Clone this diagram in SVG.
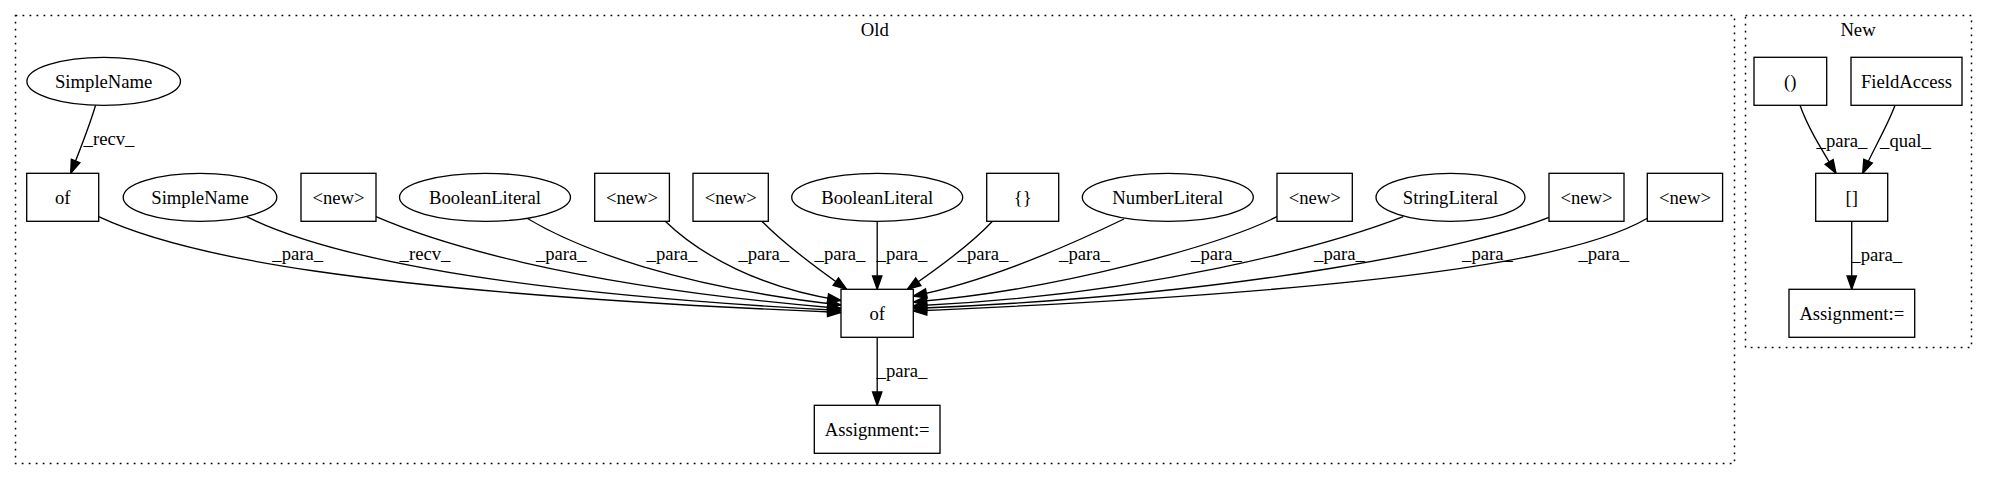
<svg xmlns="http://www.w3.org/2000/svg" width="1989" height="480" viewBox="0 0 1989 480" font-family="'Liberation Serif', 'Times New Roman', serif">
<style>
  .cl { fill: none; stroke: #000; stroke-width: 1.5; stroke-dasharray: 1.8 5.2; }
  .nd { fill: #fff; stroke: #000; stroke-width: 1.33; }
  text { font-family: 'Liberation Serif', 'Times New Roman', serif; }
  .t { font-size: 18.67px; fill: #000; text-anchor: middle; }
  .e { fill: none; stroke: #000; stroke-width: 1.33; marker-end: url(#arr); }
</style>
<defs>
  <marker id="arr" markerUnits="userSpaceOnUse" viewBox="-1 -6 16 12" markerWidth="16" markerHeight="12" refX="13.33" refY="0" orient="auto" overflow="visible">
    <path d="M0,-4.67 L13.33,0 L0,4.67 Z" fill="#000" stroke="#000" stroke-width="1.33"/>
  </marker>
</defs>
<rect width="1989" height="480" fill="#fff"/>

<g id="cluster_old">
  <rect class="cl" x="15.5" y="15.5" width="1719" height="448"/>
  <text class="t" x="874.8" y="36">Old</text>
</g>
<g id="cluster_new">
  <rect class="cl" x="1745.5" y="15.5" width="226" height="332"/>
  <text class="t" x="1858" y="36">New</text>
</g>

<g id="connectors">
  <path class="e" d="M95.5,105.5 C90,124 80,150 70.7,173.3"/>
  <text class="t" x="109" y="145">_recv_</text>

  <path class="e" d="M98.7,216.7 C180,255 350,292 841,312.5"/>
  <text class="t" x="297.7" y="260">_para_</text>

  <path class="e" d="M246.7,216.7 C310,248 450,290 841,310.5"/>
  <text class="t" x="425" y="260">_recv_</text>

  <path class="e" d="M376,216.7 C430,240 560,285 841,308.5"/>
  <text class="t" x="561.3" y="260">_para_</text>

  <path class="e" d="M527,218.3 C580,250 680,287 841,305"/>
  <text class="t" x="672" y="260">_para_</text>

  <path class="e" d="M665,221 C700,255 760,288 841,300.5"/>
  <text class="t" x="763.8" y="260">_para_</text>

  <path class="e" d="M761.7,221 C780,240 815,267 846.7,289.3"/>
  <text class="t" x="840" y="260">_para_</text>

  <path class="e" d="M877.2,221.3 L877.2,289.3"/>
  <text class="t" x="902" y="260">_para_</text>

  <path class="e" d="M992.7,221 C975,240 940,267 907.3,289.3"/>
  <text class="t" x="983" y="260">_para_</text>

  <path class="e" d="M1124,219 C1070,245 985,282 913.3,296"/>
  <text class="t" x="1084.5" y="260">_para_</text>

  <path class="e" d="M1277,216.7 C1220,245 1060,290 913.3,302"/>
  <text class="t" x="1216.5" y="260">_para_</text>

  <path class="e" d="M1403.3,216.7 C1330,245 1150,295 913.3,306"/>
  <text class="t" x="1339.5" y="260">_para_</text>

  <path class="e" d="M1549,217.3 C1480,245 1250,295 913.3,308.5"/>
  <text class="t" x="1487.5" y="260">_para_</text>

  <path class="e" d="M1647.3,218.3 C1580,258 1400,290 913.3,311"/>
  <text class="t" x="1603.8" y="260">_para_</text>

  <path class="e" d="M877.2,337.3 L877.2,405.3"/>
  <text class="t" x="902" y="376.7">_para_</text>

  <path class="e" d="M1800,105.3 C1808,128 1822,150 1836,173.3"/>
  <text class="t" x="1842" y="146.7">_para_</text>

  <path class="e" d="M1895,105.3 C1888,125 1872,152 1862.7,173.3"/>
  <text class="t" x="1905.5" y="146.7">_qual_</text>

  <path class="e" d="M1851.7,221.3 L1851.7,289.3"/>
  <text class="t" x="1876.7" y="260.7">_para_</text>
</g>

<g id="n_simplename_top"><ellipse class="nd" cx="103.7" cy="81.3" rx="76.8" ry="24"/><text class="t" x="103.7" y="87.5">SimpleName</text></g>
<g id="n_of_left"><rect class="nd" x="26.7" y="173.3" width="72" height="48"/><text class="t" x="62.7" y="203.5">of</text></g>
<g id="n_simplename2"><ellipse class="nd" cx="200" cy="197.3" rx="76.8" ry="24"/><text class="t" x="200" y="203.5">SimpleName</text></g>
<g id="n_new1"><rect class="nd" x="301" y="173.3" width="75" height="48"/><text class="t" x="338.5" y="203.5">&lt;new&gt;</text></g>
<g id="n_bool1"><ellipse class="nd" cx="485" cy="197.3" rx="85.5" ry="24"/><text class="t" x="485" y="203.5">BooleanLiteral</text></g>
<g id="n_new2"><rect class="nd" x="594.7" y="173.3" width="74.7" height="48"/><text class="t" x="632" y="203.5">&lt;new&gt;</text></g>
<g id="n_new3"><rect class="nd" x="693" y="173.3" width="75.3" height="48"/><text class="t" x="730.7" y="203.5">&lt;new&gt;</text></g>
<g id="n_bool2"><ellipse class="nd" cx="877.2" cy="197.3" rx="85.5" ry="24"/><text class="t" x="877.2" y="203.5">BooleanLiteral</text></g>
<g id="n_braces"><rect class="nd" x="986.7" y="173.3" width="72" height="48"/><text class="t" x="1022.7" y="203.5">{}</text></g>
<g id="n_number"><ellipse class="nd" cx="1167.8" cy="197.3" rx="85.5" ry="24"/><text class="t" x="1167.8" y="203.5">NumberLiteral</text></g>
<g id="n_new4"><rect class="nd" x="1277" y="173.3" width="75.3" height="48"/><text class="t" x="1314.7" y="203.5">&lt;new&gt;</text></g>
<g id="n_string"><ellipse class="nd" cx="1450.5" cy="197.3" rx="74.5" ry="24"/><text class="t" x="1450.5" y="203.5">StringLiteral</text></g>
<g id="n_new5"><rect class="nd" x="1549" y="173.3" width="75" height="48"/><text class="t" x="1586.5" y="203.5">&lt;new&gt;</text></g>
<g id="n_new6"><rect class="nd" x="1647.3" y="173.3" width="75.3" height="48"/><text class="t" x="1685" y="203.5">&lt;new&gt;</text></g>
<g id="n_of_center"><rect class="nd" x="841" y="289.3" width="72.3" height="48"/><text class="t" x="877.2" y="319.5">of</text></g>
<g id="n_assign_old"><rect class="nd" x="814.3" y="405.3" width="125.7" height="48"/><text class="t" x="877.2" y="435.5">Assignment:=</text></g>

<g id="n_paren"><rect class="nd" x="1754" y="57.3" width="72.7" height="48"/><text class="t" x="1790.3" y="87.5">()</text></g>
<g id="n_fieldaccess"><rect class="nd" x="1851" y="57.3" width="111" height="48"/><text class="t" x="1906.5" y="87.5">FieldAccess</text></g>
<g id="n_bracket"><rect class="nd" x="1815.7" y="173.3" width="72" height="48"/><text class="t" x="1851.7" y="203.5">[]</text></g>
<g id="n_assign_new"><rect class="nd" x="1789" y="289.3" width="125.7" height="48"/><text class="t" x="1851.8" y="319.5">Assignment:=</text></g>
</svg>
